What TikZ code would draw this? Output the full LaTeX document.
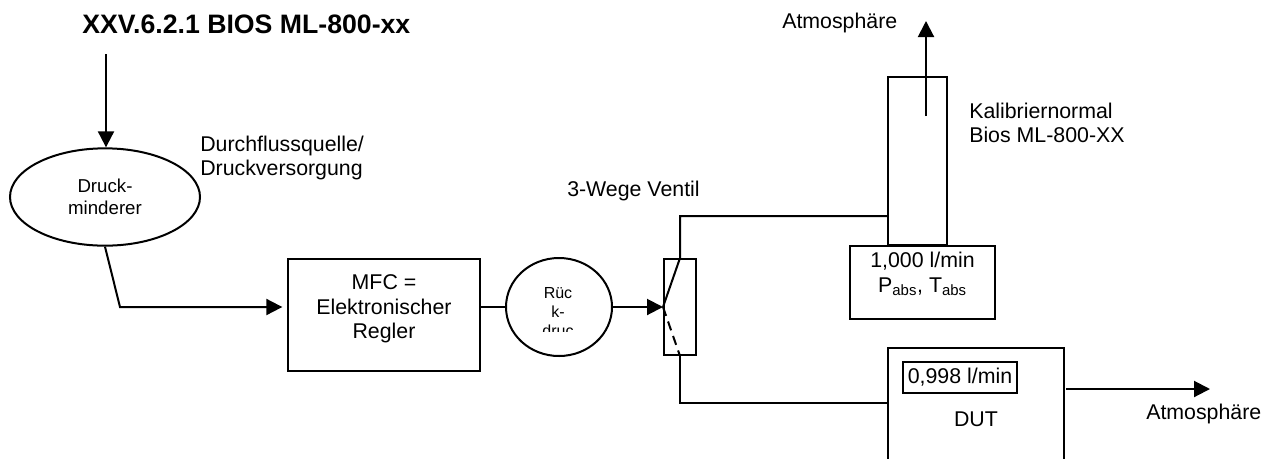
\documentclass[tikz,border=0pt]{standalone}
\usepackage{fontspec}
\setmainfont{Liberation Sans}
\usetikzlibrary{shapes.geometric, arrows.meta, positioning, calc}
\tikzset{
  line/.style={line width=1.5pt},
  flow/.style={line, -{Triangle[length=12pt,width=12pt]}},
  blockbox/.style={draw, line width=1.5pt, inner sep=0pt, align=center},
  lbl/.style={inner sep=0pt, align=left, font=\fontsize{16}{18.5}\selectfont},
}
\begin{document}
\begin{tikzpicture}[x=0.75pt,y=-0.75pt]
  \useasboundingbox (0,0) rectangle (1269,458);
  \clip (0,0) rectangle (1269,458);
  % title and labels
  \node[lbl,anchor=west,font=\fontsize{20}{23}\selectfont\bfseries] (title) at (82,24) {XXV.6.2.1 BIOS ML-800-xx};
  \node[lbl,anchor=west] (quelle) at (200,158) {Durchflussquelle/\\Druckversorgung};
  \node[lbl,anchor=west] (ventil) at (567,191) {3-Wege Ventil};
  \node[lbl,anchor=west] (normal) at (969,123) {Kalibriernormal\\Bios ML-800-XX};
  \node[lbl,anchor=west] (atmtop) at (782,23) {Atmosphäre};
  \node[lbl,anchor=west] (atmout) at (1146,414) {Atmosphäre};
  % blocks
  \node[blockbox,ellipse,minimum width=142.5pt,minimum height=73pt,font=\fontsize{14}{16.2}\selectfont] (druck) at (105,197) {Druck-\\minderer};
  \node[blockbox,minimum width=144pt,minimum height=84pt] (mfc) at (384,315) {};
  \node[lbl,align=center] (mfctxt) at (384,309) {MFC =\\Elektronischer\\Regler};
  \node[blockbox,ellipse,minimum width=79.5pt,minimum height=73.5pt] (rueck) at (559,307) {};
  \begin{scope}
    \clip (510,250) rectangle (610,331);
    \node[inner sep=0pt,align=center,anchor=north,font=\fontsize{12}{14.2}\selectfont] (ruecktxt) at (558,287) {Rüc\\k-\\druc};
  \end{scope}
  \node[blockbox,minimum width=24pt,minimum height=72pt] (valve) at (680,307) {};
  \node[blockbox,minimum width=44pt,minimum height=126pt] (tube) at (917.5,161) {};
  \node[blockbox,minimum width=108.75pt,minimum height=54.75pt,anchor=north] (calib) at (922.5,245) {};
  \node[lbl,align=center] (calibtxt) at (922.5,274) {1,000 l/min\\P\textsubscript{abs}, T\textsubscript{abs}};
  \node[blockbox,minimum width=132pt,minimum height=96pt,anchor=north] (dut) at (976,347) {};
  \node[blockbox,minimum width=85.5pt,minimum height=23.25pt,font=\fontsize{16}{18.5}\selectfont] (dutval) at (960,377.5) {0,998 l/min};
  \node[lbl] (duttxt) at (976,419) {DUT};
  % free ends
  \coordinate (inlet) at (106,54);
  \coordinate (bend) at (120,307);
  \coordinate (calin) at (888,216);
  \coordinate (dutin) at (888,403);
  \coordinate (tubein) at (926,116);
  \coordinate (tubeout) at (926,21);
  \coordinate (dutfrom) at (1066,389);
  \coordinate (dutto) at (1210,389);
  % connectors
  \draw[flow] (inlet) -- (druck.north -| inlet);
  \draw[flow] (druck.south) -- (bend) -- ($(mfc.west |- bend)+(-3.5pt,0)$);
  \draw[line] (mfc.east |- rueck.west) -- (rueck.west);
  \draw[flow] (rueck.east) -- (valve.west);
  \draw[line] (valve.west) -- (valve.north) |- (calin);
  \draw[line,dash pattern=on 7pt off 4.5pt] (valve.west) -- (valve.south);
  \draw[line] (valve.south) |- (dutin);
  \draw[flow] (tubein) -- (tubeout);
  \draw[flow] (dutfrom) -- (dutto);
\end{tikzpicture}
\end{document}
